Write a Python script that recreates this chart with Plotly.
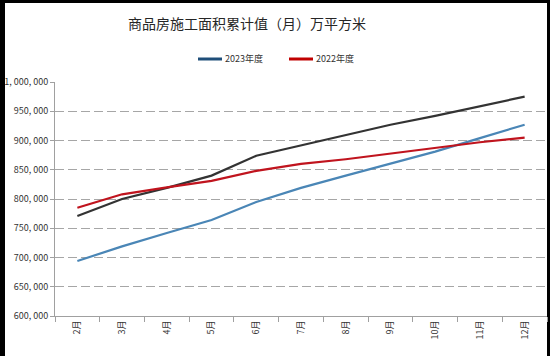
import plotly.graph_objects as go

months = ["2月", "3月", "4月", "5月", "6月", "7月", "8月", "9月", "10月", "11月", "12月"]
series_blue = [694000, 719000, 742000, 764000, 795000, 819000, 840000, 861000, 881000, 904000, 927000]
series_dark = [771000, 800000, 819000, 840000, 874000, 892000, 910000, 927000, 942000, 959000, 975000]
series_red = [785000, 808000, 820000, 831000, 848000, 860000, 868000, 878000, 888000, 897000, 905000]
legend_names = ["2023年度", "2022年度"]
legend_colors = ["#1f4e79", "#c00000"]
ytick_vals = [600000, 650000, 700000, 750000, 800000, 850000, 900000, 950000, 1000000]
ytick_text = ["600, 000", "650, 000", "700, 000", "750, 000", "800, 000", "850, 000", "900, 000", "950, 000", "1, 000, 000"]

W, H = 550, 356
ml, mr, mt, mb = 55, 3, 82, 40

fig = go.Figure()
fig.add_trace(go.Scatter(x=months, y=series_blue, mode="lines", line=dict(color="#4a86b6", width=2.2), showlegend=False))
fig.add_trace(go.Scatter(x=months, y=series_dark, mode="lines", line=dict(color="#333333", width=2.2), showlegend=False))
fig.add_trace(go.Scatter(x=months, y=series_red, mode="lines", line=dict(color="#c0141e", width=2.2), showlegend=False))

pw = W - ml - mr
ph = H - mt - mb
def px_x(p):
    return (p - ml) / pw
def px_y(p):
    return (H - mb - p) / ph

# white canvas inside a black frame (left 5px, top 3px, right 3px)
shapes = [dict(type="rect", xref="paper", yref="paper", x0=px_x(5), x1=px_x(547), y0=px_y(H + 5), y1=px_y(3),
               fillcolor="white", line=dict(width=0), layer="below")]
annotations = []
legend_x = [198, 289]
leg_y = 59
for name, col, lx in zip(legend_names, legend_colors, legend_x):
    shapes.append(dict(type="line", xref="paper", yref="paper", x0=px_x(lx), x1=px_x(lx + 24),
                       y0=px_y(leg_y), y1=px_y(leg_y), line=dict(color=col, width=3)))
    annotations.append(dict(xref="paper", yref="paper", x=px_x(lx + 25), y=px_y(leg_y), text=name,
                            showarrow=False, xanchor="left", yanchor="middle",
                            font=dict(size=9, color="#333333")))

fig.update_layout(
    width=W, height=H,
    margin=dict(l=ml, r=mr, t=mt, b=mb, autoexpand=False),
    paper_bgcolor="black", plot_bgcolor="white",
    font=dict(family="Noto Sans CJK SC, sans-serif", size=9, color="#333333"),
    title=dict(text="商品房施工面积累计值（月）万平方米", x=247 / W, xanchor="center", xref="container",
               y=1 - 24 / H, yanchor="middle", yref="container", font=dict(size=14, color="#262626")),
    shapes=shapes,
    annotations=annotations,
    showlegend=False,
)
fig.update_xaxes(
    type="category", tickangle=-90, showgrid=False, automargin=False,
    showline=True, linecolor="#a0a0a0", linewidth=1,
    ticks="outside", tickson="boundaries", ticklen=5, tickcolor="#a0a0a0",
    tickfont=dict(size=9, color="#333333"), range=[-0.5, 10.5],
)
fig.update_yaxes(
    range=[600000, 1000000], tickvals=ytick_vals, ticktext=ytick_text, automargin=False,
    showgrid=True, gridcolor="#a6a6a6", gridwidth=1.4, griddash="9px,4px",
    showline=True, linecolor="#a0a0a0", linewidth=1,
    ticks="outside", ticklen=4, tickcolor="#a0a0a0",
    tickfont=dict(size=9, color="#333333"), zeroline=False,
)

post = "document.body.style.margin='0';document.body.style.overflow='hidden';"
fig.write_html("out.html", post_script=post, config={"displayModeBar": False})
